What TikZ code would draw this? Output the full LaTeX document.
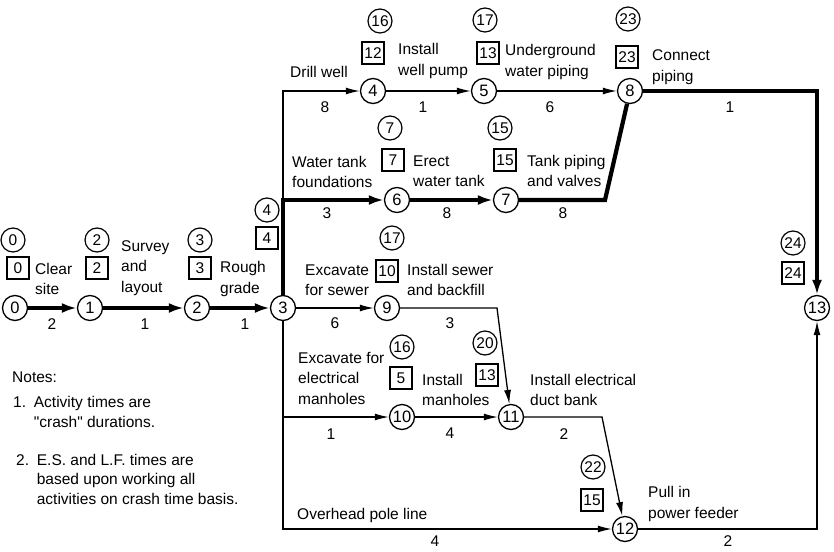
\documentclass[tikz,border=0pt]{standalone}
\usepackage{fontspec}
\setmainfont{Liberation Sans}
\usepackage{tikz}
\usetikzlibrary{arrows.meta}

\begin{document}
\begin{tikzpicture}[
			x=1pt,
			y=-1pt,
			>={Latex[length=14pt,width=7pt]},
			font=\fontsize{15.5}{20.5}\selectfont,
			event/.style={circle,draw,line width=1.3pt,minimum size=25pt,inner sep=0pt,fill=white,font=\fontsize{16.5}{18}\selectfont},
			esmark/.style={circle,draw,line width=1.2pt,minimum size=24pt,inner sep=0pt},
			lfmark/.style={rectangle,draw,line width=1.2pt,minimum height=22pt,minimum width=22pt,inner xsep=2pt,inner ysep=0pt},
			act/.style={line width=1.3pt},
			crit/.style={line width=4.2pt,>={Latex[length=15pt,width=10pt]}},
			dur/.style={inner sep=0pt},
			desc/.style={anchor=west,align=left,inner sep=0pt}
			]
			
			\useasboundingbox (0,0) rectangle (834,551);
			
			% 사건 마디
			\node[event] (n0) at (15,308) {0};
			\node[event] (n1) at (90,308) {1};
			\node[event] (n2) at (197,308) {2};
			\node[event] (n3) at (283,308) {3};
			\node[event] (n4) at (373,91) {4};
			\node[event] (n5) at (484,91) {5};
			\node[event] (n6) at (397,200) {6};
			\node[event] (n7) at (506,200) {7};
			\node[event] (n8) at (630,91) {8};
			\node[event] (n9) at (387,308) {9};
			\node[event] (n10) at (402,417) {10};
			\node[event] (n11) at (511,417) {11};
			\node[event] (n12) at (625,529) {12};
			\node[event] (n13) at (817,308) {13};
			
			% 꺾이는 점
			\coordinate (k78) at (605,200);
			\coordinate (k911) at (497,308);
			\coordinate (k1112) at (602,417);
			
			% 보통 활동
			\draw[act,->] (n3) |- (n4);
			\draw[act,->] (n4) -- (n5);
			\draw[act,->] (n5) -- (n8);
			\draw[act,->] (n3) -- (n9);
			\draw[act,->] (n9) -- (k911) -- (n11);
			\draw[act,->] (n3) |- (n10);
			\draw[act,->] (n10) -- (n11);
			\draw[act,->] (n11) -- (k1112) -- (n12);
			\draw[act,->] (n3) |- (n12);
			\draw[act,->] (n12) -| (n13);
			
			% 주공정
			\draw[crit,->] (n0) -- (n1);
			\draw[crit,->] (n1) -- (n2);
			\draw[crit,->] (n2) -- (n3);
			\draw[crit,->] (n3) |- (n6);
			\draw[crit,->] (n6) -- (n7);
			\draw[crit] (n7) -- (k78) -- (n8);
			\draw[crit,->] (n8) -| (n13);
			
			% E.S. 원, L.F. 상자
			\node[esmark] (es0) at (13,240) {0};
			\node[lfmark] (lf0) at (18,268) {0};
			\node[esmark] (es1) at (97,240) {2};
			\node[lfmark] (lf1) at (97,268) {2};
			\node[esmark] (es2) at (200,240) {3};
			\node[lfmark] (lf2) at (200,268) {3};
			\node[esmark] (es3) at (267,210) {4};
			\node[lfmark] (lf3) at (267,238) {4};
			\node[esmark] (es4) at (380,21) {16};
			\node[lfmark] (lf4) at (373,53) {12};
			\node[esmark] (es5) at (485,20) {17};
			\node[lfmark] (lf5) at (488,53) {13};
			\node[esmark] (es8) at (628,19) {23};
			\node[lfmark] (lf8) at (627,57) {23};
			\node[esmark] (es6) at (390,128) {7};
			\node[lfmark] (lf6) at (393,160) {7};
			\node[esmark] (es7) at (500,128) {15};
			\node[lfmark] (lf7) at (505,160) {15};
			\node[esmark] (es9) at (392,238) {17};
			\node[lfmark] (lf9) at (387,271) {10};
			\node[esmark] (es10) at (402,347) {16};
			\node[lfmark] (lf10) at (401,378) {5};
			\node[esmark] (es11) at (485,343) {20};
			\node[lfmark] (lf11) at (487,375) {13};
			\node[esmark] (es12) at (593,467) {22};
			\node[lfmark] (lf12) at (592,500) {15};
			\node[esmark] (es13) at (793,243) {24};
			\node[lfmark] (lf13) at (793,273) {24};
			
			% 소요 시간
			\node[dur] (d01) at (52,324) {2};
			\node[dur] (d12) at (145,324) {1};
			\node[dur] (d23) at (245,324) {1};
			\node[dur] (d34) at (325,107) {8};
			\node[dur] (d45) at (423,107) {1};
			\node[dur] (d58) at (550,107) {6};
			\node[dur] (d813) at (730,107) {1};
			\node[dur] (d36) at (327,213) {3};
			\node[dur] (d67) at (447,213) {8};
			\node[dur] (d78) at (563,213) {8};
			\node[dur] (d39) at (335,323) {6};
			\node[dur] (d911) at (450,323) {3};
			\node[dur] (d310) at (331,434) {1};
			\node[dur] (d1011) at (450,433) {4};
			\node[dur] (d1112) at (564,434) {2};
			\node[dur] (d312) at (435,541) {4};
			\node[dur] (d1213) at (728,541) {2};
			
			% 활동 이름
			\node[desc] (a01) at (35,279) {Clear\\site};
			\node[desc] (a12) at (121,268) {Survey\\and\\layout};
			\node[desc] (a23) at (220,279) {Rough\\grade};
			\node[desc] (a34) at (290,72) {Drill well};
			\node[desc] (a45) at (398,61) {Install\\well pump};
			\node[desc] (a58) at (505,62) {Underground\\water piping};
			\node[desc] (a813) at (652,67) {Connect\\piping};
			\node[desc] (a36) at (292,172) {Water tank\\foundations};
			\node[desc] (a67) at (413,171) {Erect\\water tank};
			\node[desc] (a78) at (527,171) {Tank piping\\and valves};
			\node[desc] (a39) at (305,280) {Excavate\\for sewer};
			\node[desc] (a911) at (407,280) {Install sewer\\and backfill};
			\node[desc] (a310) at (298,378) {Excavate for\\electrical\\manholes};
			\node[desc] (a1011) at (422,390) {Install\\manholes};
			\node[desc] (a1112) at (530,390) {Install electrical\\duct bank};
			\node[desc] (a1213) at (648,504) {Pull in\\power feeder};
			\node[desc] (a312) at (297,515) {Overhead pole line};
			
			% 주석
			\node[desc] (notes) at (12,377) {Notes:};
			\node[desc,font=\fontsize{15.5}{19.5}\selectfont] (note1) at (13,412) {1.\enspace Activity times are\\\phantom{1.\enspace}\textquotedbl crash\textquotedbl\ durations.};
			\node[desc,font=\fontsize{15.5}{19.5}\selectfont] (note2) at (16,479) {2.\enspace E.S. and L.F. times are\\\phantom{2.\enspace}based upon working all\\\phantom{2.\enspace}activities on crash time basis.};
			
		\end{tikzpicture}
\end{document}
